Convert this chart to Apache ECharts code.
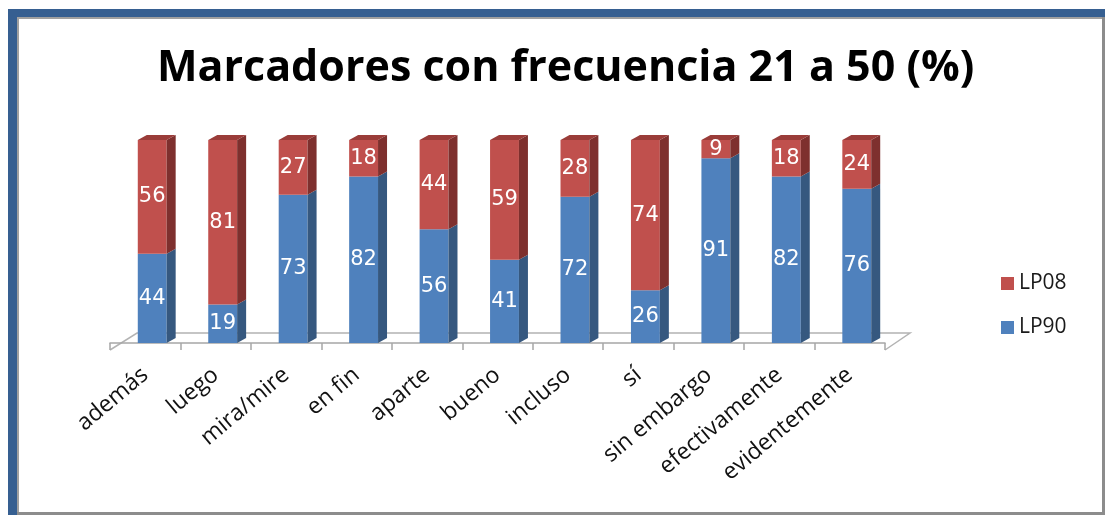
<!DOCTYPE html>
<html>
<head>
<meta charset="utf-8">
<script src="https://cdn.jsdelivr.net/npm/echarts@6/dist/echarts.min.js"></script>
<style>
  html, body { margin: 0; padding: 0; background: #fff; }
  #main { width: 1105px; height: 515px; }
</style>
</head>
<body>
<div id="main"></div>
<script>
  var categories = ['además', 'luego', 'mira/mire', 'en fin', 'aparte', 'bueno', 'incluso', 'sí', 'sin embargo', 'efectivamente', 'evidentemente'];
  var lp90 = [44, 19, 73, 82, 56, 41, 72, 26, 91, 82, 76];
  var lp08 = [56, 81, 27, 18, 44, 59, 28, 74, 9, 18, 24];

  var chart = echarts.init(document.getElementById('main'));

  // fake 3d: front face shift, side depth
  var SHIFT = 7, DX = 9, DY = -5;

  function makeRender(front, side, top, withTop) {
    return function (params, api) {
      var i = api.value(0);
      var a = api.coord([i, api.value(1)]);
      var b = api.coord([i, api.value(2)]);
      var w = api.size([1, 0])[0] * 0.41;
      var x0 = a[0] - w / 2 + SHIFT, x1 = x0 + w;
      var kids = [
        { type: 'rect', shape: { x: x0, y: b[1], width: w, height: a[1] - b[1] }, style: { fill: front } },
        { type: 'polygon', shape: { points: [[x1, a[1]], [x1 + DX, a[1] + DY], [x1 + DX, b[1] + DY], [x1, b[1]]] }, style: { fill: side } }
      ];
      if (withTop) {
        kids.push({ type: 'polygon', shape: { points: [[x0, b[1]], [x1, b[1]], [x1 + DX, b[1] + DY], [x0 + DX, b[1] + DY]] }, style: { fill: top } });
      }
      kids.push({
        type: 'text', x: (x0 + x1) / 2, y: (a[1] + b[1]) / 2,
        style: { text: String(api.value(3)), fill: '#fff', font: '21px "DejaVu Sans"', align: 'center', verticalAlign: 'middle' }
      });
      return { type: 'group', children: kids };
    };
  }

  var blueData = lp90.map(function (v, i) { return [i, 0, v, v]; });
  var redData = lp08.map(function (v, i) { return [i, lp90[i], lp90[i] + v, v]; });

  var option = {
    animation: false,
    backgroundColor: '#fff',
    title: {
      text: 'Marcadores con frecuencia 21 a 50 (%)',
      left: 152,
      top: 42,
      textStyle: { fontFamily: 'Open Sans', fontWeight: 'bold', fontSize: 43, color: '#000' }
    },
    legend: {
      orient: 'vertical',
      left: 996,
      top: 268,
      itemWidth: 13,
      itemHeight: 13,
      itemGap: 23,
      icon: 'rect',
      data: ['LP08', 'LP90'],
      textStyle: { fontFamily: 'Open Sans', fontSize: 21, color: '#1a1a1a' }
    },
    grid: { left: 110, right: 220, top: 140, bottom: 172, containLabel: false },
    xAxis: {
      type: 'category',
      data: categories,
      offset: 7,
      axisLine: { lineStyle: { color: '#a6a6a6', width: 1.5 } },
      axisTick: { show: true, length: 7, lineStyle: { color: '#a6a6a6', width: 1.5 } },
      axisLabel: { rotate: 40, margin: 22, interval: 0, fontFamily: 'Open Sans', fontSize: 23, color: '#111' }
    },
    yAxis: { type: 'value', min: 0, max: 100, show: false, splitLine: { show: false } },
    graphic: [
      { type: 'polyline', z: 0, shape: { points: [[110, 350], [137, 333], [910, 333], [885, 350]] }, style: { stroke: '#b3b3b3', lineWidth: 1.5, fill: null } },
      // frame
      { type: 'rect', shape: { x: 8, y: 9, width: 1097, height: 8 }, style: { fill: '#365f91' } },
      { type: 'rect', shape: { x: 8, y: 9, width: 9, height: 506 }, style: { fill: '#365f91' } },
      { type: 'rect', shape: { x: 17, y: 17, width: 1088, height: 2 }, style: { fill: '#a0a0a0' } },
      { type: 'rect', shape: { x: 17, y: 17, width: 2, height: 498 }, style: { fill: '#a0a0a0' } },
      { type: 'rect', shape: { x: 1102, y: 17, width: 3, height: 498 }, style: { fill: '#8c8c8c' } },
      { type: 'rect', shape: { x: 17, y: 512, width: 1088, height: 3 }, style: { fill: '#8c8c8c' } }
    ],
    series: [
      {
        name: 'LP90', type: 'custom', z: 3,
        itemStyle: { color: '#4f81bd' },
        encode: { x: 0, y: 2 },
        renderItem: makeRender('#4f81bd', '#36587f', '#3f6796', false),
        data: blueData
      },
      {
        name: 'LP08', type: 'custom', z: 3,
        itemStyle: { color: '#c0504d' },
        encode: { x: 0, y: 2 },
        renderItem: makeRender('#c0504d', '#7e302e', '#9a3c39', true),
        data: redData
      }
    ]
  };
  chart.setOption(option);
</script>
</body>
</html>
